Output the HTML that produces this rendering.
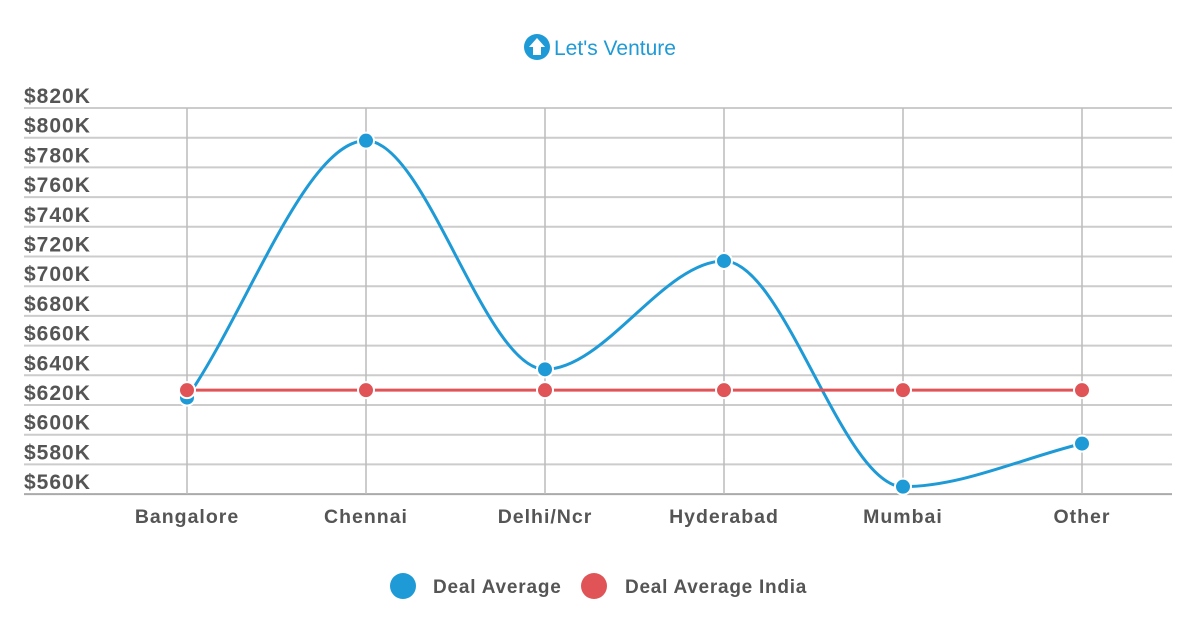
<!DOCTYPE html>
<html><head><meta charset="utf-8"><style>
body{margin:0;background:#fff;width:1200px;height:628px;overflow:hidden;font-family:"Liberation Sans",sans-serif}
</style></head><body>
<svg width="1200" height="628">
<g>
<circle cx="537" cy="47" r="13" fill="#1e9ad6"/>
<path d="M537 38 L545 47 L541 47 L541 55 L533 55 L533 47 L529 47 Z" fill="#fff"/>
<text x="554" y="55" font-size="21" fill="#1e9ad6">Let's Venture</text>
</g>
<g id="grid"></g><g id="ylab"></g><g id="xlab"></g><g id="series"></g>
<g>
<g><circle cx="403" cy="586" r="13" fill="#1e9ad6"/><text x="433" y="593" font-size="19" font-weight="bold" fill="#555" letter-spacing="0.8">Deal Average</text></g>
<g><circle cx="594" cy="586" r="13" fill="#e05457"/><text x="625" y="593" font-size="19" font-weight="bold" fill="#555" letter-spacing="0.75">Deal Average India</text></g>
</g>
</svg>
<script>
const categories=["Bangalore","Chennai","Delhi/Ncr","Hyderabad","Mumbai","Other"];
const dealAverage=[625,798,644,717,565,594];
const dealAverageIndia=[630,630,630,630,630,630];
const yTicks=[820,800,780,760,740,720,700,680,660,640,620,600,580,560];
const NS="http://www.w3.org/2000/svg";
const y=v=>108+(820-v)*29.7/20;
const x=i=>187+i*179;
function mk(t,a,p){const e=document.createElementNS(NS,t);for(const k in a)e.setAttribute(k,a[k]);p.appendChild(e);return e;}
const grid=document.getElementById('grid'),yl=document.getElementById('ylab'),xl=document.getElementById('xlab'),se=document.getElementById('series');
yTicks.forEach(v=>{
 const l=mk('line',{x1:24,x2:1172,y1:y(v),y2:y(v),stroke:v==560?'#aaa':'#ccc','stroke-width':2},grid);
 
 
 const t=mk('text',{x:24,y:y(v)-5,'font-size':21,'font-weight':'bold',fill:'#555','letter-spacing':1},yl);
 t.textContent='$'+v+'K';
 
 
});
categories.forEach((c,i)=>{
 const l=mk('line',{x1:x(i),x2:x(i),y1:108,y2:494,stroke:'#bbb','stroke-width':1.5},grid);
 
 
 const t=mk('text',{x:x(i),y:523,'font-size':19.5,'font-weight':'bold',fill:'#555','text-anchor':'middle','letter-spacing':1},xl);
 t.textContent=c;
 
 
});
function monotone(pts){
 const n=pts.length,d=[],m=[];
 for(let i=0;i<n-1;i++)d.push((pts[i+1][1]-pts[i][1])/(pts[i+1][0]-pts[i][0]));
 for(let i=0;i<n;i++){
  if(i==0)m.push(d[0]);else if(i==n-1)m.push(d[n-2]);
  else m.push(d[i-1]*d[i]<=0?0:(d[i-1]+d[i])/2);
 }
 for(let i=0;i<n-1;i++){if(d[i]==0){m[i]=m[i+1]=0;continue;}const a=m[i]/d[i],b=m[i+1]/d[i],s=a*a+b*b;if(s>9){const t=3/Math.sqrt(s);m[i]=t*a*d[i];m[i+1]=t*b*d[i];}}
 let p='M'+pts[0][0]+','+pts[0][1];
 for(let i=0;i<n-1;i++){const h=(pts[i+1][0]-pts[i][0])/3;
  p+=` C${pts[i][0]+h},${pts[i][1]+m[i]*h} ${pts[i+1][0]-h},${pts[i+1][1]-m[i+1]*h} ${pts[i+1][0]},${pts[i+1][1]}`;}
 return p;
}
function draw(vals,col,name){
 const pts=vals.map((v,i)=>[x(i),y(v)]);
 const p=mk('path',{d:monotone(pts),fill:'none',stroke:col,'stroke-width':3},se);
 
 
 pts.forEach(q=>{
  const c=mk('circle',{cx:q[0],cy:q[1],r:8,fill:col,stroke:'#fff','stroke-width':2},se);
  
  
 });
}
draw(dealAverage,'#1e9ad6','deal-average');
draw(dealAverageIndia,'#e05457','deal-average-india');
</script>
</body></html>
